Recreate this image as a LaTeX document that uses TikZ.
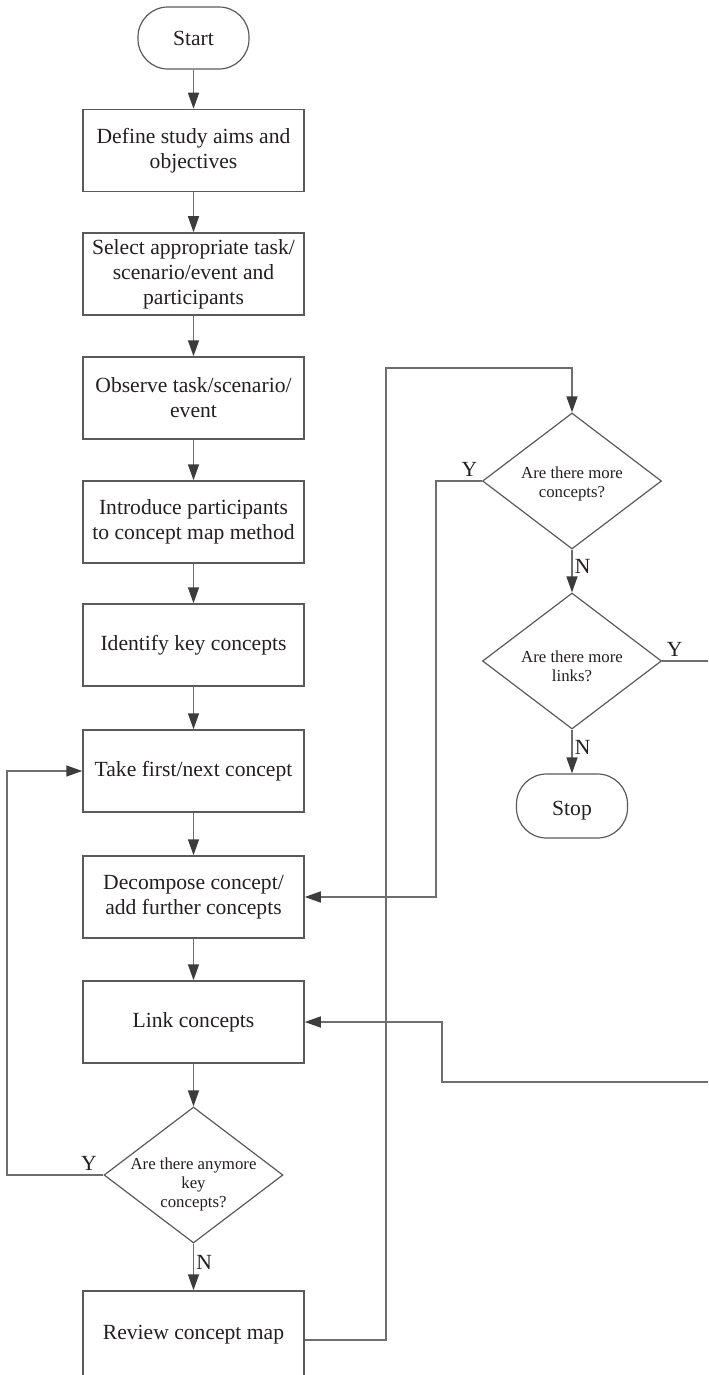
\documentclass[tikz,border=0pt]{standalone}
\usepackage{fontspec}
\setmainfont{Liberation Serif}
\usetikzlibrary{shapes.geometric,arrows.meta}
\definecolor{edge}{HTML}{6E6E6E}
\definecolor{frame}{HTML}{5A5A5A}
\definecolor{tip}{HTML}{3C3C3C}
\definecolor{ink}{HTML}{231F20}
\begin{document}
\begin{tikzpicture}[x=0.5pt,y=-0.5pt,
  every node/.style={text=ink},
  stepbox/.style={draw=frame, line width=0.75pt, minimum width=110.5pt,
    minimum height=41pt, align=center, inner sep=0pt,
    font=\fontsize{10.8}{12.5}\selectfont},
  terminal/.style={draw=frame, line width=0.6pt, rounded corners=15pt,
    minimum width=55.5pt, minimum height=31pt,
    font=\fontsize{10.8}{12.5}\selectfont},
  decision/.style={draw=frame, line width=0.6pt, diamond,
    minimum width=89.5pt, minimum height=68pt, inner sep=0pt},
  qtext/.style={align=center, inner sep=0pt, text=ink,
    font=\fontsize{8.4}{9.5}\selectfont},
  flow/.style={draw=edge, line width=0.75pt,
    -{Triangle[length=8pt,width=5.5pt,color=tip]}},
  yn/.style={font=\fontsize{10.8}{12}\selectfont, inner sep=1pt}
]
\useasboundingbox (0,0) rectangle (708,1375);
\clip (0,0) rectangle (708,1375);

% main column
\node[terminal] (start) at (193.5,38) {Start};
\node[stepbox] (aims)     at (193.5,150.5) {Define study aims and\\objectives};
\node[stepbox] (select)   at (193.5,274)   {Select appropriate task/\\scenario/event and\\participants};
\node[stepbox] (observe)  at (193.5,398)   {Observe task/scenario/\\event};
\node[stepbox] (intro)    at (193.5,522)   {Introduce participants\\to concept map method};
\node[stepbox] (identify) at (193.5,645)   {Identify key concepts};
\node[stepbox] (take)     at (193.5,771)   {Take first/next concept};
\node[stepbox] (decomp)   at (193.5,897)   {Decompose concept/\\add further concepts};
\node[stepbox] (link)     at (193.5,1022)  {Link concepts};
\node[decision, label={[qtext, yshift=-4.5pt]center:Are there anymore\\key\\concepts?}] (keyq) at (193.5,1175) {};
\node[stepbox, minimum height=44pt] (review) at (193.5,1335) {Review concept map};

% right column
\node[decision, label={[qtext, yshift=-1.5pt]center:Are there more\\concepts?}] (concq) at (572,481) {};
\node[decision, label={[qtext, yshift=-2.5pt]center:Are there more\\links?}] (linkq) at (572,661) {};
\node[terminal, minimum height=32pt, text depth=0pt, yshift=0pt] (stop) at (572,806) {\raisebox{-2pt}{Stop}};

% straight flow
\draw[flow] (start) -- (aims);
\draw[flow] (aims) -- (select);
\draw[flow] (select) -- (observe);
\draw[flow] (observe) -- (intro);
\draw[flow] (intro) -- (identify);
\draw[flow] (identify) -- (take);
\draw[flow] (take) -- (decomp);
\draw[flow] (decomp) -- (link);
\draw[flow] (link) -- (keyq);
\draw[flow] (keyq.south) -- node[yn, anchor=west, pos=0.4]{N} (review.north);
\draw[flow] (concq.south) -- node[yn, anchor=west, pos=0.4]{N} (linkq.north);
\draw[flow] (linkq.south) -- node[yn, anchor=west, pos=0.4]{N} (stop.north);

% loops
\coordinate (loopx) at (7,0);
\draw[flow] (keyq.west) node[yn, anchor=south east, xshift=-2pt, yshift=1pt]{Y}
  -- (keyq.west -| loopx) |- (take.west);

\coordinate (rv) at (386,1340);
\coordinate (rt) at (386,368);
\draw[flow] (review.east |- rv) -- (rv) -- (rt) -| (concq.north);

\coordinate (cx) at (436,0);
\draw[flow] (concq.west) node[yn, anchor=south east, xshift=-1pt, yshift=1pt]{Y}
  -- (concq.west -| cx) |- (decomp.east);

\coordinate (ex) at (740,0);
\coordinate (lb) at (442,1082);
\draw[flow] (linkq.east) node[yn, anchor=south west, xshift=1pt, yshift=1pt]{Y}
  -- (linkq.east -| ex) |- (lb) |- (link.east);
\end{tikzpicture}
\end{document}
